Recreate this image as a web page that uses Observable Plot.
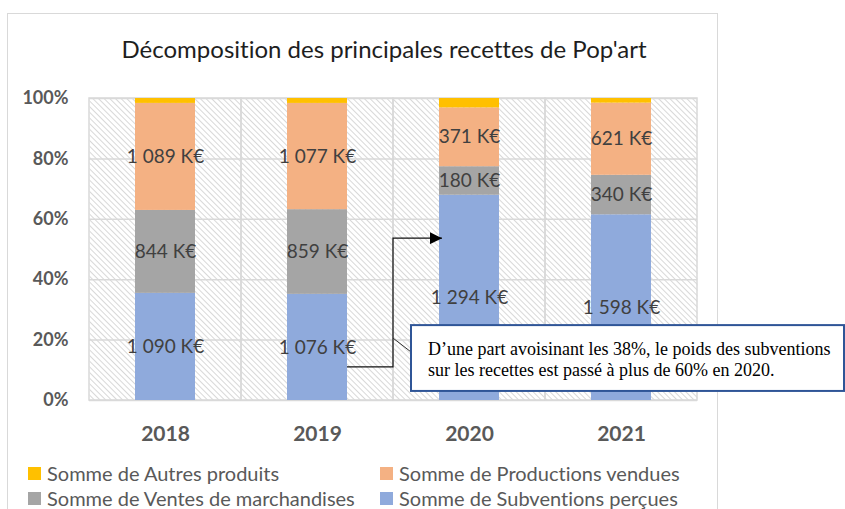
<!DOCTYPE html>
<html>
<head>
<meta charset="utf-8">
<script src="https://cdn.jsdelivr.net/npm/d3@7"></script>
<script src="https://cdn.jsdelivr.net/npm/@observablehq/plot@0.6"></script>
<style>
  html, body { margin: 0; padding: 0; background: #fff; width: 845px; height: 509px; overflow: hidden; font-variant-ligatures: none; }
  svg text { font-variant-ligatures: none; }
  #frame { position: absolute; left: 7px; top: 13px; width: 709px; height: 520px; border: 1.5px solid #d9d9d9; border-bottom: none; }
  #title { position: absolute; left: 0; width: 768px; top: 37px; text-align: center; font-family: Lato, sans-serif; font-size: 24px; line-height: 24px; color: #1e1e1e; font-variant-ligatures: none; }
  #chart { position: absolute; left: 0; top: 80px; }
  .leg { position: absolute; display: flex; align-items: center; height: 24px; font-family: Lato, sans-serif; font-size: 20px; color: #595959; white-space: nowrap; }
  .sw { width: 13px; height: 13px; margin-right: 6px; }
</style>
</head>
<body>
<div id="frame"></div>
<div id="title"></div>
<div id="chart"></div>
<div id="legend"></div>
<script>
const titleText = "Décomposition des principales recettes de Pop'art";
const years = ["2018", "2019", "2020", "2021"];
const seriesKeys = ["Subventions", "Ventes", "Productions", "Autres"];
const seriesNames = ["Somme de Subventions perçues", "Somme de Ventes de marchandises", "Somme de Productions vendues", "Somme de Autres produits"];
const seriesColors = ["#8FAADC", "#A5A5A5", "#F4B183", "#FFC000"];
const subventions = [1090, 1076, 1294, 1598];
const ventes = [844, 859, 180, 340];
const productions = [1089, 1077, 371, 621];
const autres = [50, 50, 59, 40];
const yTicks = [0, 0.2, 0.4, 0.6, 0.8, 1];
const legendOrder = ["Autres", "Productions", "Ventes", "Subventions"];
const annotationLines = ["D’une part avoisinant les 38%, le poids des subventions", "sur les recettes est passé à plus de 60% en 2020."];
const arrowShares = [0.11, 0.536];      // arrow start (2019) and end (2020) levels
const calloutShares = [0.205, 0.159];   // callout pointer: at boundary, at box edge
const boxShares = [0.248, 0.03];        // annotation box top / bottom

const valuesBySeries = { Subventions: subventions, Ventes: ventes, Productions: productions, Autres: autres };
const data = [];
years.forEach((year, i) => {
  seriesKeys.forEach(k => data.push({ year, serie: k, value: valuesBySeries[k][i] }));
});

const fr = d3.formatLocale({ decimal: ",", thousands: " ", grouping: [3], currency: ["", " €"] });
const fmt = v => fr.format(",")(v) + " K€";

document.getElementById("title").textContent = titleText;

const inset = 46;
const plot = Plot.plot({
  width: 845, height: 380,
  marginLeft: 89, marginRight: 148, marginTop: 18, marginBottom: 60,
  style: { fontFamily: "Lato, sans-serif", background: "transparent", overflow: "visible" },
  x: { domain: years, padding: 0 },
  y: { domain: [0, 1] },
  color: { domain: seriesKeys, range: seriesColors },
  marks: [
    Plot.frame({ fill: "url(#hatch)" }),
    Plot.gridY(yTicks, { stroke: "#d9d9d9", strokeOpacity: 1, strokeWidth: 1.5 }),
    Plot.barY(years, { x: d => d, y1: 0, y2: 1, fill: "none", stroke: "#d9d9d9", strokeWidth: 1.5 }),
    Plot.barY(data, Plot.stackY({ offset: "normalize", x: "year", y: "value", z: "serie", fill: "serie", insetLeft: inset, insetRight: inset })),
    Plot.text(data, Plot.stackY({ offset: "normalize", x: "year", y: "value", z: "serie",
      text: d => d.serie === "Autres" ? "" : fmt(d.value), fontSize: 19, fill: "#404040" })),
    Plot.axisY({ ticks: yTicks, tickFormat: d3.format(".0%"), tickSize: 0, tickPadding: 21, fontSize: 18, fontWeight: "bold", fill: "#595959", label: null }),
    Plot.axisX({ tickSize: 0, tickPadding: 26, fontSize: 21, fontWeight: "bold", fill: "#595959", label: null })
  ]
});

const svg = d3.select(plot);
svg.insert("defs", ":first-child").html(
  `<pattern id="hatch" patternUnits="userSpaceOnUse" width="4" height="4" patternTransform="rotate(-45)">
     <rect width="4" height="4" fill="#ffffff"/>
     <line x1="0.5" y1="0" x2="0.5" y2="4" stroke="#d8d8d8" stroke-width="1"/>
   </pattern>
   <marker id="arrow" viewBox="0 0 10 10" refX="10" refY="5" markerWidth="12" markerHeight="12" markerUnits="userSpaceOnUse" orient="auto">
     <path d="M0,0 L10,5 L0,10 z" fill="#000"/>
   </marker>`);

const xs = plot.scale("x"), ys = plot.scale("y");
const bw = xs.bandwidth;
const barRight2019 = xs.apply("2019") + bw - inset;
const boundary = xs.apply("2020");
const barLeft2020 = xs.apply("2020") + inset;
const g = svg.append("g").attr("text-anchor", "start");
g.append("path")
  .attr("d", `M${barRight2019},${ys.apply(arrowShares[0])}H${boundary}V${ys.apply(arrowShares[1])}H${barLeft2020 + 3}`)
  .attr("fill", "none").attr("stroke", "#111").attr("stroke-width", 1.2).attr("marker-end", "url(#arrow)");

const boxLeft = boundary + 18, boxRight = 844;
const boxTop = ys.apply(boxShares[0]), boxBottom = ys.apply(boxShares[1]);
g.append("line")
  .attr("x1", boundary).attr("y1", ys.apply(calloutShares[0]))
  .attr("x2", boxLeft).attr("y2", ys.apply(calloutShares[1]))
  .attr("stroke", "#333").attr("stroke-width", 1);
g.append("rect")
  .attr("x", boxLeft).attr("y", boxTop).attr("width", boxRight - boxLeft).attr("height", boxBottom - boxTop)
  .attr("fill", "#fff").attr("stroke", "#2F5597").attr("stroke-width", 2);
annotationLines.forEach((t, i) => {
  g.append("text").attr("x", boxLeft + 17).attr("y", boxTop + 30 + i * 21)
    .attr("text-anchor", "start")
    .attr("font-family", "'Liberation Serif', 'Times New Roman', serif").attr("font-size", 18).attr("fill", "#000")
    .text(t);
});

document.getElementById("chart").appendChild(plot);

// legend
const legendPos = [[28, 461], [380, 461], [28, 486], [380, 486]];
const legend = document.getElementById("legend");
legendOrder.forEach((k, i) => {
  const idx = seriesKeys.indexOf(k);
  const item = document.createElement("div");
  item.className = "leg";
  item.style.left = legendPos[i][0] + "px";
  item.style.top = legendPos[i][1] + "px";
  item.innerHTML = `<span class="sw" style="background:${seriesColors[idx]}"></span><span>${seriesNames[idx]}</span>`;
  legend.appendChild(item);
});
</script>
</body>
</html>
